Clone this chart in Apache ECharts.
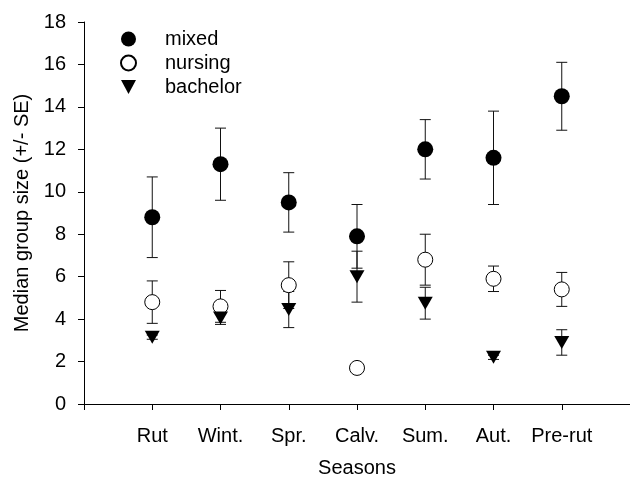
<!DOCTYPE html>
<html lang="en">
<head>
    <meta charset="UTF-8"/>
    <title>Median group size</title>
    <script src="https://cdn.jsdelivr.net/npm/echarts@6/dist/echarts.min.js"></script>
    <style>
        html, body { margin: 0; padding: 0; background: #fff; }
    </style>
</head>
<body>
<div id="main" style="width: 630px;height: 479px;"></div>
<script type="text/javascript">
    // seasons on the x axis
    var seasons = ['Rut', 'Wint.', 'Spr.', 'Calv.', 'Sum.', 'Aut.', 'Pre-rut'];
    var yTicks = [0, 2, 4, 6, 8, 10, 12, 14, 16, 18];

    // medians and SE
    var mixed = [8.8, 11.3, 9.5, 7.9, 12.0, 11.6, 14.5];
    var mixedSE = [1.9, 1.7, 1.4, 1.5, 1.4, 2.2, 1.6];
    var nursing = [4.8, 4.6, 5.6, 1.7, 6.8, 5.9, 5.4];
    var nursingSE = [1.0, 0.75, 1.1, 0, 1.2, 0.6, 0.8];
    var bachelor = [3.15, 4.05, 4.45, 6.0, 4.75, 2.2, 2.9];
    var bachelorSE = [0.1, 0.3, 0.85, 1.2, 0.75, 0.1, 0.6];

    var font = 'Liberation Sans, Arial, sans-serif';

    function points(vals) {
        return vals.map(function (v, i) { return [i + 1, v]; });
    }
    function bars(vals, se) {
        var out = [];
        vals.forEach(function (v, i) {
            if (se[i] > 0) out.push([i + 1, v - se[i], v + se[i]]);
        });
        return out;
    }
    function errorBars(name, vals, se) {
        return {
            type: 'custom',
            name: name + '-se',
            silent: true,
            data: bars(vals, se),
            renderItem: function (params, api) {
                var x = api.value(0);
                var lo = api.coord([x, api.value(1)]);
                var hi = api.coord([x, api.value(2)]);
                var w = 5.5;
                var st = { stroke: '#111', lineWidth: 1 };
                return {
                    type: 'group',
                    children: [
                        { type: 'line', shape: { x1: lo[0], y1: lo[1], x2: hi[0], y2: hi[1] }, style: st },
                        { type: 'line', shape: { x1: lo[0] - w, y1: lo[1], x2: lo[0] + w, y2: lo[1] }, style: st },
                        { type: 'line', shape: { x1: hi[0] - w, y1: hi[1], x2: hi[0] + w, y2: hi[1] }, style: st }
                    ]
                };
            }
        };
    }

    var myChart = echarts.init(document.getElementById('main'));

    myChart.setOption({
        animation: false,
        backgroundColor: '#fff',
        textStyle: { fontFamily: font },
        grid: { left: 84, right: 0, top: 22, bottom: 75, containLabel: false, outerBoundsMode: 'none' },
        legend: {
            orient: 'vertical',
            left: 115,
            top: 24,
            itemWidth: 15,
            itemHeight: 15,
            itemGap: 4,
            data: ['mixed', 'nursing', 'bachelor'],
            textStyle: { fontFamily: font, fontSize: 20, color: '#000', padding: [0, 0, 0, 24] }
        },
        xAxis: {
            type: 'value',
            min: 0,
            max: 8,
            interval: 1,
            name: 'Seasons',
            nameLocation: 'middle',
            nameGap: 54,
            nameTextStyle: { fontFamily: font, fontSize: 20, color: '#000' },
            axisLine: { lineStyle: { color: '#000', width: 1 } },
            axisTick: { inside: false, length: 6, lineStyle: { color: '#000' } },
            axisLabel: {
                margin: 22,
                fontFamily: font,
                fontSize: 20,
                color: '#000',
                formatter: function (v) { return seasons[v - 1] || ''; }
            },
            splitLine: { show: false }
        },
        yAxis: {
            type: 'value',
            min: yTicks[0],
            max: yTicks[yTicks.length - 1],
            interval: 2,
            name: 'Median group size (+/- SE)',
            nameLocation: 'middle',
            nameGap: 42,
            nameTextStyle: { fontFamily: font, fontSize: 20, color: '#000' },
            axisLine: { show: true, lineStyle: { color: '#000', width: 1 } },
            axisTick: { show: true, length: 6, lineStyle: { color: '#000' } },
            axisLabel: { margin: 18, fontFamily: font, fontSize: 20, color: '#000' },
            splitLine: { show: false }
        },
        series: [
            errorBars('mixed', mixed, mixedSE),
            {
                name: 'mixed',
                type: 'scatter',
                symbol: 'circle',
                symbolSize: 16,
                itemStyle: { color: '#000', opacity: 1 },
                data: points(mixed)
            },
            errorBars('nursing', nursing, nursingSE),
            {
                name: 'nursing',
                type: 'scatter',
                symbol: 'circle',
                symbolSize: 15,
                itemStyle: { color: '#fff', borderColor: '#000', borderWidth: 1, opacity: 1 },
                data: points(nursing)
            },
            errorBars('bachelor', bachelor, bachelorSE),
            {
                name: 'bachelor',
                type: 'scatter',
                symbol: 'path://M0,0L14,0L7,13Z',
                symbolSize: [15, 13],
                itemStyle: { color: '#000', opacity: 1 },
                data: points(bachelor)
            }
        ]
    });
</script>
</body>
</html>
